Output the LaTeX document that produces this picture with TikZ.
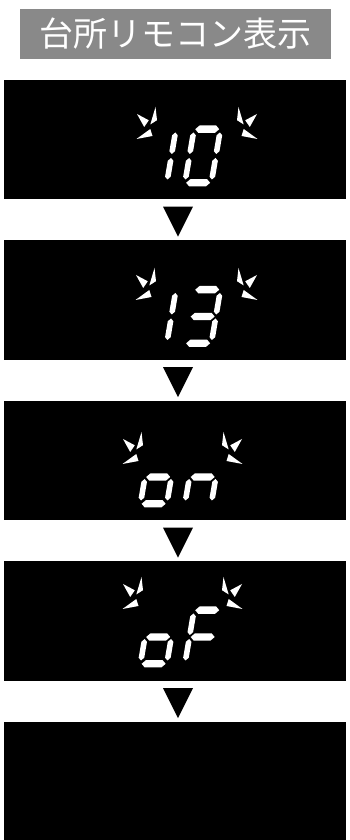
\documentclass[tikz,border=0pt]{standalone}
\usepackage{fontspec}
\usetikzlibrary{calc}
\newfontfamily\jpfont{Noto Sans CJK JP}
\definecolor{titlegray}{RGB}{137,137,137}
\newcommand\hseg[3]{\fill[seg] (#2,#1) -- ({#2+3.7},{#1+3.7}) -- ({#3-3.7},{#1+3.7}) -- (#3,#1) -- ({#3-3.7},{#1-3.7}) -- ({#2+3.7},{#1-3.7}) -- cycle;}
\newcommand\vseg[3]{\fill[seg] (#1,#2) -- ({#1+2.8},{#2+2.8}) -- ({#1+2.8},{#3-2.8}) -- (#1,#3) -- ({#1-2.8},{#3-2.8}) -- ({#1-2.8},{#2+2.8}) -- cycle;}
\newcommand\segA{\hseg{57.3}{4}{28}}
\newcommand\segG{\hseg{30.5}{4}{28}}
\newcommand\segD{\hseg{3.7}{4}{28}}
\newcommand\segF{\vseg{2.8}{32.5}{54}}
\newcommand\segB{\vseg{29.2}{32.5}{54}}
\newcommand\segE{\vseg{2.8}{7}{28.5}}
\newcommand\segC{\vseg{29.2}{7}{28.5}}
\newcommand\lcddigit[3]{\begin{scope}[shift={(#1,#2)},xslant=0.17]#3\end{scope}}
\newcommand\sparkshape{%
  \fill[seg] (1,7) -- (12.8,13.3) -- (8.2,20) -- cycle;
  \fill[seg] (19.5,0) -- (21,13.2) -- (14.3,17.5) -- cycle;
  \fill[seg] (0.5,32) -- (14.3,22) -- (16.5,29) -- cycle;}
\newcommand\lcdspark[3]{%
  \begin{scope}[shift={(#1,#2)},yscale=-1]\sparkshape\end{scope}
  \begin{scope}[shift={({2*#3-#1},#2)},xscale=-1,yscale=-1]\sparkshape\end{scope}}
\begin{document}
\begin{tikzpicture}[x=1pt,y=1pt,
  seg/.style={fill=white},
  lcd/.style={rectangle,fill=black,draw=none,inner sep=0pt,minimum width=342pt,minimum height=119.5pt},
  titlebox/.style={rectangle,fill=titlegray,text=white,inner sep=0pt,minimum width=311pt,minimum height=50pt,font=\jpfont\fontsize{34}{34}\selectfont},
  downtri/.style={fill=black}]
\useasboundingbox (0,0) rectangle (350,840);
\node[titlebox] (title) at (175.5,806) {台所リモコン表示};
\node[lcd] (s1) at (175,700.25) {};
\node[lcd] (s2) at (175,539.75) {};
\node[lcd] (s3) at (175,379.25) {};
\node[lcd] (s4) at (175,218.75) {};
\node[lcd,minimum height=118pt] (s5) at (175,59) {};
\foreach \a in {s1,s2,s3,s4}{
  \fill[downtri] ($(\a.south)+(-12,-7)$) -- ++(30,0) -- ++(-15,-30) -- cycle;
}
% box 1: 10
\lcdspark{136}{733}{197}
\lcddigit{137}{653.5}{\segB\segC}
\lcddigit{181.5}{653.5}{\segA\segB\segC\segD\segE\segF}
% box 2: 13
\lcdspark{135}{572}{196.5}
\lcddigit{137}{493}{\segB\segC}
\lcddigit{181.5}{493}{\segA\segB\segC\segD\segG}
% box 3: on
\lcdspark{122}{408}{182.5}
\lcddigit{137}{332.5}{\segC\segD\segE\segG}
\lcddigit{181.5}{332.5}{\segC\segE\segG}
% box 4: oF
\lcdspark{122}{263}{182.5}
\lcddigit{137}{172.5}{\segC\segD\segE\segG}
\lcddigit{181.5}{172.5}{\segA\segE\segF\segG}
\end{tikzpicture}
\end{document}
